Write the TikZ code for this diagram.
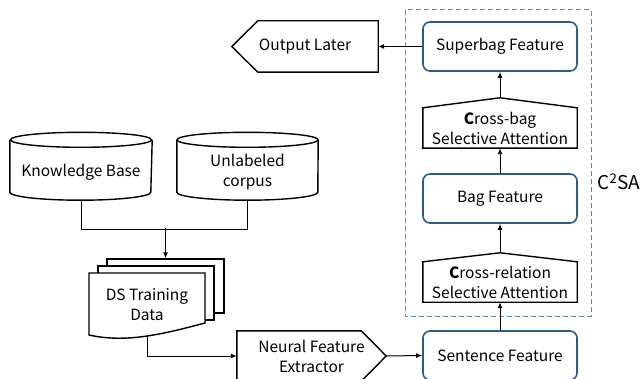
\documentclass[tikz,border=0pt]{standalone}
\usepackage{fontspec}
\setmainfont{Noto Sans CJK SC}
\usetikzlibrary{arrows.meta,positioning}

\definecolor{boxblue}{HTML}{2E5B8A}
\definecolor{dashblue}{HTML}{5B8EC2}

\tikzset{
  feat/.style={draw=boxblue,line width=1.6pt,rounded corners=7pt,fill=white,
    minimum width=154pt,minimum height=49pt,inner sep=0pt,align=center},
  attn/.style={minimum width=154pt,minimum height=40pt,inner sep=0pt,align=center},
  txt/.style={inner sep=0pt,align=center},
  page/.style={draw,line width=1.4pt,fill=white,inner sep=0pt},
  shp/.style={draw,line width=1.4pt,line join=miter},
  conn/.style={line width=1pt},
  flow/.style={conn,-{Latex[length=6pt,width=5pt]}},
}

\begin{document}
\begin{tikzpicture}[x=1pt,y=-1pt,font=\fontsize{15.5}{20}\selectfont]
\clip (0,0) rectangle (642,379);

% C2SA block
\draw[dashblue,line width=1pt,dash pattern=on 5pt off 3pt] (405,10) rectangle (591,316);
\node[txt,font=\fontsize{19}{22}\selectfont] (c2sa) at (619,182) {C\textsuperscript{2}SA};

\node[feat] (sup) at (500,46.5) {Superbag Feature};
\node[attn] (cbag) at (500,128) {\textbf{C}ross-bag\\Selective Attention};
\node[feat] (bag) at (500,198.5) {Bag Feature};
\node[attn] (crel) at (500,282) {\textbf{C}ross-relation\\Selective Attention};
\node[feat] (sent) at (500,355.5) {Sentence Feature};

\draw[shp] (cbag.south west) -- (cbag.north west) -- ([yshift=10pt]cbag.north)
  -- (cbag.north east) -- (cbag.south east) -- cycle;
\draw[shp] (crel.south west) -- (crel.north west) -- ([yshift=9pt]crel.north)
  -- (crel.north east) -- (crel.south east) -- cycle;

% output
\node[txt,minimum width=146pt,minimum height=51pt] (out) at (305,46.5) {Output Later};
\draw[shp] ([xshift=26pt]out.north west) -- (out.north east) -- (out.south east)
  -- ([xshift=26pt]out.south west) -- (out.west) -- cycle;

% databases
\node[txt,minimum width=142pt,minimum height=56pt] (kb) at (81,172) {Knowledge Base};
\node[txt,minimum width=141pt,minimum height=56pt] (unl) at (247.5,172) {Unlabeled\\corpus};
\foreach \db in {kb,unl}{
  \draw[shp] ([yshift=4pt]\db.north) ellipse [x radius=70.5pt,y radius=7.5pt];
  \draw[shp] ([yshift=4pt]\db.north west) -- ([yshift=8pt]\db.south west)
    arc [start angle=180,end angle=360,x radius=70.5pt,y radius=8pt]
    -- ([yshift=4pt]\db.north east);
}

% training data
\node[page,minimum width=117pt,minimum height=54pt] (p3) at (165.5,286) {};
\node[page,minimum width=116pt,minimum height=54pt] (p2) at (156,293) {};
\draw[shp,fill=white] (89,273) -- (205,273) -- (205,323)
  .. controls (160,335) and (125,343) .. (89,335) -- cycle;
\node[txt,minimum width=116pt,minimum height=63pt] (ds) at (147,304.5) {DS Training\\Data};

% extractor
\node[txt,minimum width=149pt,minimum height=50pt] (nfe) at (311.5,356) {Neural Feature\\Extractor};
\draw[shp] (nfe.north west) -- ([xshift=-25pt]nfe.north east) -- (nfe.east)
  -- ([xshift=-25pt]nfe.south east) -- (nfe.south west) -- cycle;

% connectors
\draw[conn] (kb.south) -- ++(0,29) -| (unl.south);
\draw[flow] (p3.north) ++(0,-30) -- (p3.north);
\draw[flow] (ds.south) |- (nfe.west);
\draw[flow] (nfe.east) -- (sent.west);
\draw[flow] (sent.north) -- (crel.south);
\draw[flow] ([yshift=9pt]crel.north) -- (bag.south);
\draw[flow] (bag.north) -- (cbag.south);
\draw[flow] ([yshift=10pt]cbag.north) -- (sup.south);
\draw[flow] (sup.west) -- (out.east);
\end{tikzpicture}
\end{document}
